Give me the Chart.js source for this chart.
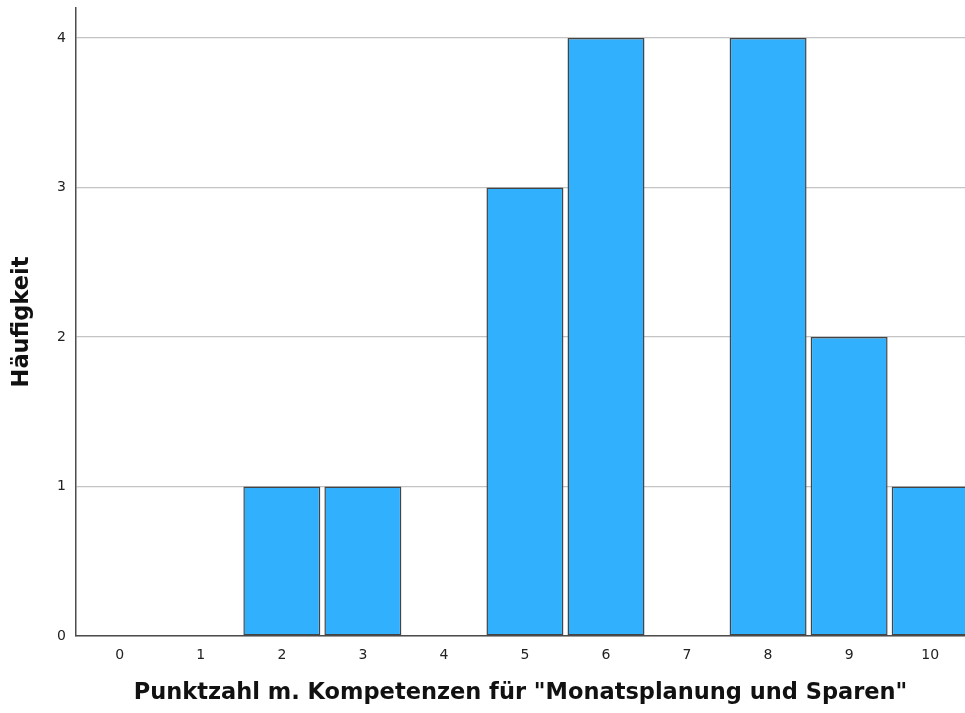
<!DOCTYPE html>
<html>
<head>
<meta charset="utf-8">
<script src="https://cdn.jsdelivr.net/npm/chart.js@4/dist/chart.umd.min.js"></script>
<style>
  html, body { margin: 0; padding: 0; background: #fff; overflow: hidden; }
</style>
</head>
<body>
<canvas id="histChart" width="965" height="713"></canvas>
<script>
// ======================
// DATA
// ======================
const punkte = [0, 1, 2, 3, 4, 5, 6, 7, 8, 9, 10];
const haeufigkeit = [0, 0, 1, 1, 0, 3, 4, 0, 4, 2, 1];
const yTicks = [0, 1, 2, 3, 4];

const xTitle = 'Punktzahl m. Kompetenzen für "Monatsplanung und Sparen"';
const yTitle = "Häufigkeit";

const FONT = "'DejaVu Sans', sans-serif";

// ======================
// HISTOGRAM
// ======================
new Chart(document.getElementById("histChart"), {
  type: "bar",
  data: {
    datasets: [{
      data: punkte.map((p, i) => ({ x: p, y: haeufigkeit[i] })),
      backgroundColor: "#31b0fd",
      borderColor: "#444",
      borderWidth: 1.5,
      borderSkipped: false,
      barPercentage: 0.95,
      categoryPercentage: 1.0
    }]
  },
  options: {
    responsive: false,
    animation: false,
    devicePixelRatio: 1,
    layout: { padding: { top: 8, left: 0, right: 0, bottom: 0 } },
    plugins: { legend: { display: false }, tooltip: { enabled: false } },
    scales: {
      x: {
        type: "linear",
        offset: false,
        min: -0.54,
        max: 10.43,
        afterBuildTicks: s => { s.ticks = punkte.map(v => ({ value: v })); },
        afterFit: s => { s.height = 77; s.paddingLeft = 0; s.paddingRight = 0; },
        grid: { display: false, drawTicks: false, offset: false },
        border: { color: "#4d4d4d", width: 1.5 },
        ticks: { color: "#222", font: { family: FONT, size: 14 }, padding: 11, maxRotation: 0, autoSkip: false },
        title: {
          display: true, text: xTitle, color: "#111",
          font: { family: FONT, size: 22.5, weight: "bold" },
          padding: { top: 0, bottom: 6 }
        }
      },
      y: {
        min: 0,
        max: 4.2,
        afterBuildTicks: s => { s.ticks = yTicks.map(v => ({ value: v })); },
        afterFit: s => { s.width = 76; s.paddingTop = 0; s.paddingBottom = 0; },
        grid: { color: "#c4c4c4", lineWidth: 1.2, drawTicks: false },
        border: { color: "#4d4d4d", width: 1.5 },
        ticks: { color: "#222", font: { family: FONT, size: 14 }, padding: 10, autoSkip: false },
        title: {
          display: true, text: yTitle, color: "#111",
          font: { family: FONT, size: 22.5, weight: "bold" },
          padding: { top: 9, bottom: 0 }
        }
      }
    }
  }
});
</script>
</body>
</html>
